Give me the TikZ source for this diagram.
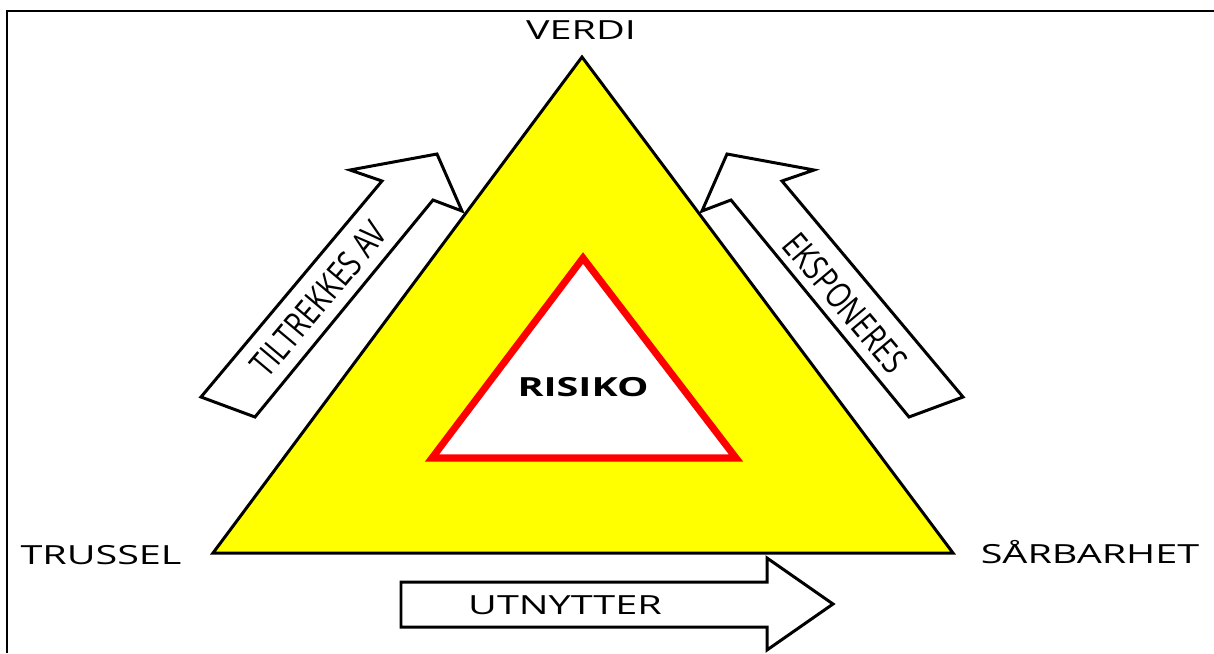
\documentclass[tikz,border=0pt]{standalone}
\usepackage{fontspec}
\setmainfont{Open Sans}
\usepackage{tikz}
\usetikzlibrary{positioning}
\definecolor{riskyellow}{RGB}{255,255,0}
\definecolor{riskred}{RGB}{255,0,0}
\tikzset{
	label text/.style={font=\fontsize{15}{18}\selectfont, xscale=1.5, inner sep=0pt},
	arrow text/.style={font=\fontsize{15}{18}\selectfont, inner sep=0pt},
	hollow arrow/.style={draw=black, line width=1.7pt, fill=white, line join=miter}
}

\begin{document}
\begin{tikzpicture}[x=0.02cm, y=-0.02cm]
	\useasboundingbox (0, 0) rectangle (1214, 653);

	% frame
	\draw[line width=1.7pt] (7, 653) -- (7, 11) -- (1220, 11);

	% corners
	\coordinate (top) at (582, 57);
	\coordinate (left) at (213, 553);
	\coordinate (right) at (953, 553);

	\draw[line width=1.7pt, fill=riskyellow, line join=miter] (top) -- (left) -- (right) -- cycle;
	\draw[riskred, line width=4pt, fill=white, line join=miter] (583, 258) -- (432, 458) -- (736, 458) -- cycle;
	\node[label text, font=\fontsize{15}{18}\selectfont\bfseries] (risiko) at (583, 387) {RISIKO};

	\node[label text] (verdi) at (581, 30) {VERDI};
	\node[label text] (trussel) at (101, 555) {TRUSSEL};
	\node[label text] (sarbarhet) at (1090, 552) {SÅRBARHET};

	% arrows
	\draw[hollow arrow] (201, 397) -- (382, 181) -- (350, 170) -- (437, 154) -- (462, 211) -- (433, 200) -- (255, 417) -- cycle;
	\node[arrow text, rotate=50, xscale=1.05, yscale=1.35] (tiltrekkes) at (319, 299) {TILTREKKES AV};

	\draw[hollow arrow] (963, 397) -- (782, 181) -- (814, 170) -- (727, 154) -- (702, 211) -- (731, 200) -- (909, 417) -- cycle;
	\node[arrow text, rotate=-50, xscale=1.05, yscale=1.35] (eksponeres) at (845, 303) {EKSPONERES};

	\draw[hollow arrow] (401, 582) -- (767, 582) -- (767, 558) -- (833, 604) -- (767, 650) -- (767, 627) -- (401, 627) -- cycle;
	\node[label text] (utnytter) at (565, 605) {UTNYTTER};

\end{tikzpicture}
\end{document}
